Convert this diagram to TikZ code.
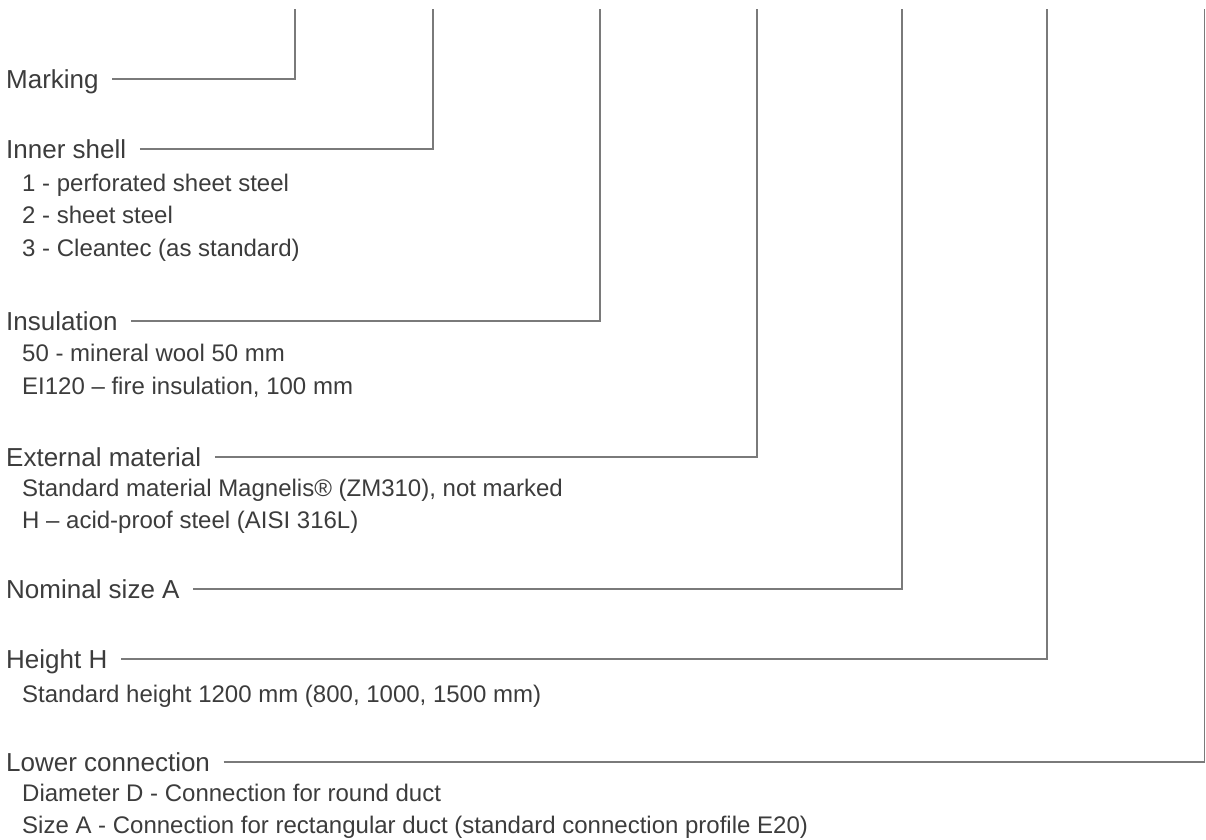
\documentclass[tikz,border=0pt]{standalone}
\usepackage{fontspec}
\setmainfont{Liberation Sans}
\definecolor{labelgray}{HTML}{3C3C3C}
\definecolor{linegray}{HTML}{7A7A7A}

\begin{document}
\begin{tikzpicture}[x=1pt,y=-1pt,
	heading/.style={anchor=west,inner sep=0pt,text height=18.6pt,text depth=0pt,font=\fontsize{26}{30}\selectfont,text=labelgray},
	option/.style={anchor=west,inner sep=0pt,text height=17.2pt,text depth=0pt,font=\fontsize{24}{28}\selectfont,text=labelgray},
	leader/.style={draw=linegray,line width=1.8pt}]

		\useasboundingbox (0,0) rectangle (1206,839);

		\coordinate (T1) at (295,9);
		\coordinate (T2) at (433,9);
		\coordinate (T3) at (600,9);
		\coordinate (T4) at (757,9);
		\coordinate (T5) at (902,9);
		\coordinate (T6) at (1047,9);
		\coordinate (T7) at (1204.5,9);

		\node[heading] (marking) at (6,79)  {Marking};

		\node[heading] (shell)   at (6,149) {Inner shell};
		\node[option]  (shell1)  at (22,183) {1 - perforated sheet steel};
		\node[option]  (shell2)  at (22,215) {2 - sheet steel};
		\node[option]  (shell3)  at (22,248) {3 - Cleantec (as standard)};

		\node[heading] (insul)   at (6,321) {Insulation};
		\node[option]  (insul1)  at (22,353) {50 - mineral wool 50 mm};
		\node[option]  (insul2)  at (22,386) {EI120 – fire insulation, 100 mm};

		\node[heading] (ext)     at (6,457) {External material};
		\node[option]  (ext1)    at (22,488) {Standard material Magnelis® (ZM310), not marked};
		\node[option]  (ext2)    at (22,520) {H – acid-proof steel (AISI 316L)};

		\node[heading] (nominal) at (6,589) {Nominal size A};

		\node[heading] (height)  at (6,659) {Height H};
		\node[option]  (height1) at (22,694) {Standard height 1200 mm (800, 1000, 1500 mm)};

		\node[heading] (lower)   at (6,762) {Lower connection};
		\node[option]  (lower1)  at (22,793) {Diameter D - Connection for round duct};
		\node[option]  (lower2)  at (22,825) {Size A - Connection for rectangular duct (standard connection profile E20)};

		\foreach \lbl/\top in {marking/T1,shell/T2,insul/T3,ext/T4,nominal/T5,height/T6,lower/T7}
			\draw[leader] ([xshift=13.5pt]\lbl.east) -| (\top);
\end{tikzpicture}
\end{document}
